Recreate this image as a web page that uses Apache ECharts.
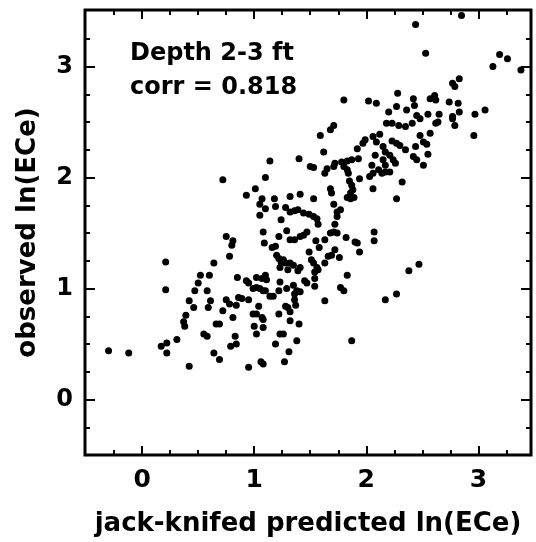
<!DOCTYPE html>
<html><head><meta charset="utf-8">
<script src="https://cdn.jsdelivr.net/npm/echarts@6/dist/echarts.min.js"></script>
<style>html,body{margin:0;padding:0;background:#fff}#chart{width:536px;height:542px}</style>
</head><body><div id="chart"></div>
<script>
// [jack-knifed predicted ln(ECe), observed ln(ECe)]
const upperPoints = [
[2.85,3.46],[2.44,3.38],[2.53,3.12],[3.19,3.11],[3.26,3.07],[3.13,3.00],[3.38,2.97],[2.83,2.89],[2.77,2.85],[2.79,2.82],
[2.28,2.76],[1.80,2.70],[2.02,2.69],[2.09,2.67],[2.42,2.71],[2.43,2.65],[2.57,2.71],[2.61,2.74],[2.62,2.70],[2.74,2.68],
[2.82,2.67],[2.27,2.64],[2.20,2.59],[2.36,2.61],[2.45,2.56],[2.55,2.57],[2.65,2.57],[2.77,2.55],[2.83,2.59],[2.97,2.57],
[3.06,2.61],[2.18,2.49],[2.23,2.49],[2.29,2.47],[2.35,2.46],[2.41,2.49],[2.48,2.53],[2.62,2.49],[2.64,2.50],[2.77,2.53],
[2.79,2.47],[1.71,2.47],[1.68,2.43],[1.59,2.38],[2.96,2.38],[2.48,2.38],[2.57,2.40],[1.99,2.34],[2.06,2.37],[2.12,2.39],
[2.09,2.32],[1.97,2.31],[2.23,2.33],[2.27,2.31],[2.51,2.32],[2.54,2.30],[1.92,2.26],[2.30,2.29],[2.35,2.25],[2.44,2.28],
[1.62,2.23],[2.15,2.28],[2.17,2.23],[2.08,2.20],[2.21,2.20],[2.42,2.19],[2.45,2.16],[2.55,2.21],[1.40,2.17],[1.14,2.15],
[1.50,2.10],[1.53,2.09],[1.65,2.08],[1.63,2.04],[1.72,2.13],[1.71,2.10],[1.78,2.14],[1.83,2.15],[1.87,2.16],[1.93,2.17],
[1.80,2.10],[1.83,2.07],[1.84,2.04],[2.05,2.11],[2.06,2.04],[2.15,2.16],[2.17,2.11],[2.24,2.16],[2.26,2.13],[2.11,2.07],
[2.14,2.04],[2.17,2.05],[2.21,2.05],[2.51,2.11],[2.03,2.01],[1.94,1.99],[1.85,1.97],[1.87,1.93],[1.88,1.89],[1.86,1.86],
[1.83,1.82],[1.86,1.81],[1.89,1.82],[2.32,1.96],[2.06,1.90],[2.27,1.81],[1.68,1.90],[1.69,1.86],[0.72,1.98],[1.10,2.00],
[1.01,1.90],[0.93,1.84],[1.07,1.81],[1.05,1.76],[1.10,1.72],[1.18,1.81],[1.19,1.74],[1.32,1.83],[1.41,1.85],[1.53,1.81],
[1.28,1.73],[1.32,1.69],[1.36,1.70],[1.39,1.71],[1.44,1.68],[1.49,1.67],[1.53,1.65],[1.56,1.63],[1.57,1.58],[1.77,1.71],
[1.74,1.69],[1.74,1.65],[1.71,1.76],[1.05,1.66],[1.24,1.62],[1.72,1.58]
];
const middlePoints = [
[1.08,1.51],[1.29,1.52],[1.22,1.47],[0.75,1.47],[0.81,1.43],[0.80,1.39],[1.41,1.47],[1.44,1.48],[1.47,1.51],[1.32,1.44],
[1.36,1.44],[1.55,1.43],[1.63,1.44],[1.68,1.50],[1.71,1.51],[1.74,1.50],[1.82,1.46],[1.90,1.42],[1.92,1.41],[2.07,1.51],
[2.07,1.43],[1.94,1.33],[1.09,1.41],[1.16,1.37],[1.19,1.38],[1.58,1.37],[1.49,1.33],[1.72,1.35],[1.66,1.29],[1.69,1.30],
[1.76,1.28],[1.63,1.23],[0.78,1.29],[0.64,1.23],[0.21,1.24],[1.20,1.30],[1.22,1.27],[1.24,1.24],[1.26,1.26],[1.28,1.23],
[1.32,1.23],[1.35,1.21],[1.23,1.19],[1.41,1.19],[1.39,1.16],[1.30,1.17],[1.51,1.26],[1.53,1.23],[1.56,1.19],[1.54,1.15],
[1.57,1.17],[1.83,1.12],[1.77,1.01],[1.80,0.98],[0.85,1.10],[0.52,1.12],[0.60,1.12],[1.10,1.12],[1.11,1.08],[1.02,1.10],
[1.07,1.09],[0.93,1.07],[0.95,1.05],[0.99,1.00],[1.02,1.01],[1.05,1.00],[1.08,0.98],[1.10,0.98],[1.23,1.06],[1.29,1.00],
[1.35,1.03],[1.38,0.98],[1.41,0.97],[1.36,0.95],[1.45,1.07],[1.47,1.05],[1.54,1.09],[1.54,1.02],[0.50,1.05],[0.47,0.98],
[0.58,0.98],[0.21,0.99],[0.42,0.89],[0.46,0.83],[0.61,0.89],[0.59,0.83],[0.75,0.90],[0.78,0.86],[0.84,0.85],[0.86,0.92],
[0.89,0.91],[0.95,0.90],[1.14,0.93],[1.17,0.93],[1.22,0.98],[1.36,0.90],[1.37,0.85],[1.30,0.83],[1.28,0.84],[1.32,0.79],
[1.63,0.89],[1.04,0.84],[0.99,0.77],[1.02,0.77],[1.08,0.72],[1.07,0.74],[0.81,0.74],[0.72,0.80],[1.22,0.77],[1.32,0.71],
[1.40,0.68],[0.39,0.76],[0.37,0.70],[0.38,0.66],[0.66,0.68],[0.69,0.68],[0.55,0.59],[0.58,0.57],[0.83,0.57],[1.00,0.66],
[1.08,0.65],[1.02,0.59],[1.23,0.59],[1.26,0.59],[1.38,0.53],[1.87,0.53],[0.31,0.54],[2.17,0.90],[2.27,0.95],[2.38,1.16],
[2.47,1.22]
];
const lowerPoints = [
[-0.30,0.44],[-0.12,0.42],[0.17,0.48],[0.22,0.51],[0.22,0.42],[0.42,0.30],[0.64,0.42],[0.69,0.36],[0.79,0.48],[0.84,0.50],
[0.95,0.29],[1.06,0.34],[1.08,0.32],[1.19,0.50],[1.27,0.34],[1.31,0.43]
];
const xMajorTicks = [0, 1, 2, 3];
const yMajorTicks = [0, 1, 2, 3];
const xMinorTicks = [-0.25, 0.25, 0.5, 0.75, 1.25, 1.5, 1.75, 2.25, 2.5, 2.75, 3.25];
const yMinorTicks = [-0.25, 0.25, 0.5, 0.75, 1.25, 1.5, 1.75, 2.25, 2.5, 2.75, 3.25];
const xTitle = 'jack-knifed predicted ln(ECe)';
const yTitle = 'observed ln(ECe)';
const noteLines = ['Depth 2-3 ft', 'corr = 0.818'];

const FONT = '"DejaVu Sans", "Liberation Sans", sans-serif';
const X_RANGE = [-0.51, 3.47];
const Y_RANGE = [-0.5, 3.51];

function axis(position, range, ticks, len, labelCfg, nameCfg) {
  const a = {
    type: 'value', position: position, min: range[0], max: range[1], gridIndex: 0,
    axisLine: { show: false, onZero: false }, splitLine: { show: false },
    axisTick: { show: true, inside: true, length: len, customValues: ticks,
                lineStyle: { color: '#000', width: 2 } },
    axisLabel: labelCfg ? Object.assign({ show: true, customValues: ticks, color: '#000',
                fontFamily: FONT, fontWeight: 'bold' }, labelCfg) : { show: false }
  };
  if (nameCfg) Object.assign(a, nameCfg);
  return a;
}

const chart = echarts.init(document.getElementById('chart'), null, { renderer: 'canvas' });
chart.setOption({
  animation: false,
  backgroundColor: '#fff',
  grid: { left: 85, right: 5, top: 10, bottom: 87, show: true, borderColor: '#000', borderWidth: 3,
          backgroundColor: 'transparent' },
  xAxis: [
    axis('bottom', X_RANGE, xMajorTicks, 9, { fontSize: 25, margin: 13 },
      { name: xTitle, nameLocation: 'middle', nameGap: 56,
        nameTextStyle: { fontSize: 26, fontWeight: 'bold', fontFamily: FONT, color: '#000' } }),
    axis('bottom', X_RANGE, xMinorTicks, 5, null),
    axis('top', X_RANGE, xMajorTicks, 9, null),
    axis('top', X_RANGE, xMinorTicks, 5, null)
  ],
  yAxis: [
    axis('left', Y_RANGE, yMajorTicks, 10, { fontSize: 24, margin: 12 },
      { name: yTitle, nameLocation: 'middle', nameGap: 44,
        nameTextStyle: { fontSize: 26, fontWeight: 'bold', fontFamily: FONT, color: '#000' } }),
    axis('left', Y_RANGE, yMinorTicks, 5, null),
    axis('right', Y_RANGE, yMajorTicks, 10, null),
    axis('right', Y_RANGE, yMinorTicks, 5, null)
  ],
  series: [{
    type: 'scatter', xAxisIndex: 0, yAxisIndex: 0,
    data: upperPoints.concat(middlePoints, lowerPoints),
    symbol: 'circle', symbolSize: 7,
    itemStyle: { color: '#000', opacity: 1 }, silent: true
  }],
  graphic: [
    { type: 'text', left: 130, top: 42, style: { text: noteLines[0], fill: '#000',
        font: 'bold 24px "DejaVu Sans", sans-serif' } },
    { type: 'text', left: 130, top: 76, style: { text: noteLines[1], fill: '#000',
        font: 'bold 24px "DejaVu Sans", sans-serif' } }
  ]
});
</script></body></html>
